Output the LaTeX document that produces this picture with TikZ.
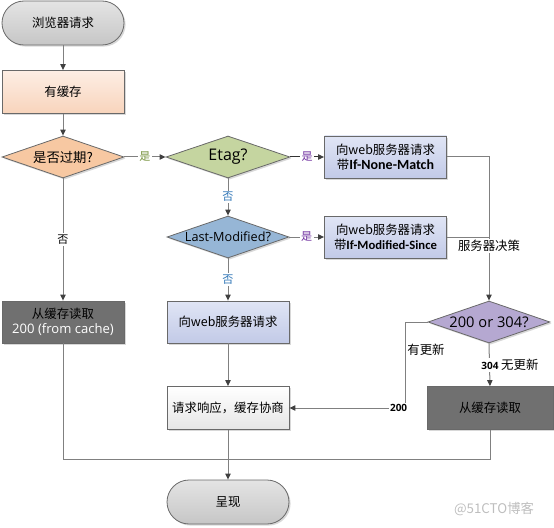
\documentclass[tikz,border=0pt]{standalone}
\usepackage{fontspec}
\setmainfont{Noto Sans CJK SC}
\newfontfamily\latin{Open Sans}
\newfontfamily\narrow{Carlito}
\usetikzlibrary{shapes.geometric,arrows.meta,shadows}

\begin{document}
\begin{tikzpicture}[x=0.75pt,y=0.75pt,yscale=-1,xscale=1,
	shape base/.style={draw={rgb,255:red,105;green,105;blue,105}, line width=0.6pt,
		drop shadow={shadow xshift=1.2pt, shadow yshift=-1.2pt, fill=black!30}},
	box/.style={shape base, rectangle, minimum width=91.5pt, minimum height=31.5pt,
		inner sep=1pt, align=center, font=\fontsize{9.3}{11.5}\selectfont},
	terminal/.style={box, rounded corners=16.5pt, minimum height=33pt,
		top color={rgb,255:red,228;green,228;blue,228}, bottom color={rgb,255:red,198;green,198;blue,198}},
	decision/.style={shape base, diamond, minimum width=91.5pt, minimum height=31.5pt,
		inner sep=0pt, font=\fontsize{9}{11}\selectfont},
	request/.style={box, top color={rgb,255:red,224;green,229;blue,245}, bottom color={rgb,255:red,194;green,202;blue,231}},
	darkbox/.style={box, fill={rgb,255:red,112;green,112;blue,112}},
	line/.style={draw={rgb,255:red,128;green,128;blue,128}, line width=0.75pt},
	flow/.style={line, -{Triangle[length=4.5pt,width=4pt,color=black!75]}},
	lbl/.style={fill=white, inner sep=1pt, font=\fontsize{8.3}{10}\selectfont}
	]
	\path[use as bounding box] (0,0) rectangle (554,528);
	
	%Terminals
	\node [terminal] (browser) at (63,23) {浏览器请求};
	\node [terminal] (render) at (228,502) {呈现};
	
	%Boxes
	\node [box, top color={rgb,255:red,253;green,238;blue,228}, bottom color={rgb,255:red,248;green,212;blue,188}, minimum height=32.25pt] (cache) at (63,92) {有缓存};
	\node [request] (nonematch) at (385.5,157) {向web服务器请求\\带{\narrow\bfseries\fontsize{10.5}{11.5}\selectfont If-None-Match}};
	\node [request] (modsince) at (385.5,237) {向web服务器请求\\带{\narrow\bfseries\fontsize{9.5}{11}\selectfont If-Modified-Since}};
	\node [request] (webreq) at (228,322) {向web服务器请求};
	\node [box, top color=white, bottom color={rgb,255:red,230;green,230;blue,230}, minimum height=32.25pt] (negotiate) at (228,408) {请求响应，缓存协商};
	\node [darkbox] (fromcache) at (63,322) {从缓存读取\\{\latin\fontsize{9.8}{11.5}\selectfont\color{white}200 (from cache)}};
	\node [darkbox, minimum width=94.5pt, minimum height=32.25pt] (readcache) at (490,408) {从缓存读取};
	
	%Decisions
	\node [decision, fill={rgb,255:red,247;green,200;blue,162}, font=\fontsize{10}{12}\selectfont] (expired) at (63,157) {\makebox[0pt]{是否过期?}};
	\node [decision, fill={rgb,255:red,197;green,213;blue,160}, minimum width=93pt] (etag) at (228,157) {\makebox[0pt]{\latin\fontsize{12}{14}\selectfont Etag?}};
	\node [decision, fill={rgb,255:red,150;green,182;blue,214}] (lastmod) at (228,237) {\makebox[0pt]{\latin\fontsize{9.5}{11}\selectfont Last-Modified?}};
	\node [decision, fill={rgb,255:red,181;green,168;blue,209}] (decide) at (489,322) {\makebox[0pt]{\latin\fontsize{11}{13}\selectfont 200 or 304?}};
	
	%Connectors
	\draw [flow] (browser) -- (cache);
	\draw [flow] (cache) -- (expired);
	\draw [flow] (expired.east) -- node [lbl, text={rgb,255:red,118;green,146;blue,60}] {是} (etag.west);
	\draw [flow] (expired.south) -- node [lbl] {否} (fromcache.north);
	\draw [flow, draw=black!80] (etag.east) -- node [lbl, text={rgb,255:red,112;green,48;blue,160}] {是} (nonematch.west);
	\draw [flow] (etag.south) -- node [lbl, text={rgb,255:red,46;green,117;blue,182}] {否} (lastmod.north);
	\draw [flow] (lastmod.east) -- node [lbl, text={rgb,255:red,112;green,48;blue,160}] {是} (modsince.west);
	\draw [flow] (lastmod.south) -- node [lbl, text={rgb,255:red,46;green,117;blue,182}] {否} (webreq.north);
	\draw [flow] (nonematch.east) -| node [pos=0.81, lbl, font=\fontsize{9.3}{11}\selectfont] {服务器决策} (decide.north);
	\draw [line] (modsince.east) -- (modsince.east -| decide.north);
	\draw [flow] (webreq) -- (negotiate);
	\draw [flow] (decide.west) -- ++(-22,0) |- node [pos=0.16, right, inner sep=1pt, font=\fontsize{9.3}{11}\selectfont] {有更新} node [pos=0.53, lbl, font=\latin\bfseries\fontsize{7.5}{9}\selectfont] {200} (negotiate.east);
	\draw [flow] (decide.south) -- node [lbl, anchor=west, xshift=-7.5pt, font=\fontsize{9.3}{11}\selectfont] {{\latin\bfseries\fontsize{7.5}{9}\selectfont 304} 无更新} (readcache.north);
	\draw [line] (fromcache.south) -- ++(0,116) -| (readcache.south);
	\draw [flow] (negotiate) -- (render);
	
	% Text Node
	\node [text={rgb,255:red,190;green,190;blue,190}, font=\fontsize{10}{12}\selectfont] (mark) at (494,509) {@51CTO博客};
\end{tikzpicture}
\end{document}
